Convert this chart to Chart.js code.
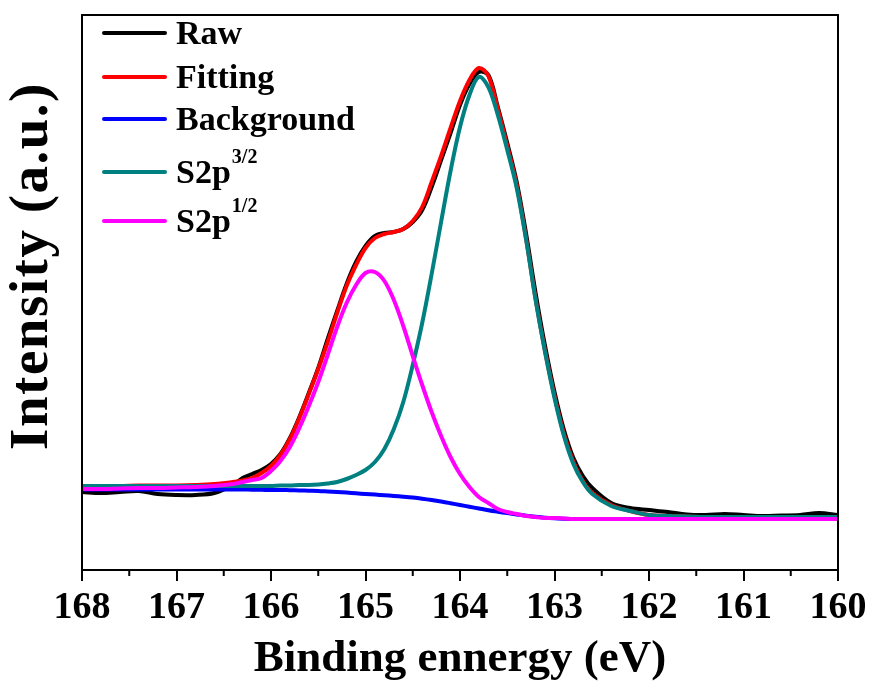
<!DOCTYPE html>
<html><head><meta charset="utf-8">
<script src="https://cdn.jsdelivr.net/npm/chart.js@4.4.1/dist/chart.umd.min.js"></script>
<style>html,body{margin:0;padding:0;background:#fff;}canvas{display:block;}</style>
</head><body>
<canvas id="c" width="872" height="682"></canvas>
<script>
const energy = [168,167.8,167.6,167.4,167.2,167.0,166.8,166.6,166.4,166.3,166.2,166.1,166.0,165.9,165.8,165.7,165.6,165.5,165.4,165.3,165.2,165.1,165.0,164.9,164.8,164.7,164.6,164.5,164.4,164.3,164.2,164.1,164.0,163.9,163.8,163.7,163.6,163.5,163.4,163.3,163.2,163.1,163.0,162.9,162.8,162.7,162.6,162.4,162.2,162.0,161.8,161.6,161.4,161.2,161.0,160.8,160.6,160.4,160.2,160.0];
const raw = [78,77,78,79,76,75,75,77,85,92,96,100,106,116,132,153,177,202,231,259,286,308,324,334,337,338,341,348,360,383,410,437,465,486,498,495,463,427,388,336,277,224,178,140,112,94,82,67,62,60,58,55.5,55,56,55,54,54.5,55,57,55];
const fitting = [84,84,84,84.5,84.5,84.5,85,86,88,89.5,92,97,104,115,131,152,176,201,228,257,284,305,322,332,336,338,341,349,363,388,414,442,469,490,502,494,461,424,385,331,271,219,174,136,108,89,77,65,59,55,54,53.5,53,53,53,53,53,53,53,53];
const background = [80.5,80.5,80.5,80.5,80.5,80.5,80.5,80.5,80.5,80.5,80.3,80.2,80,80,79.8,79.6,79.3,79,78.5,78,77.4,76.7,76,75.4,74.8,74.1,73.3,72.4,71.3,70,68.5,66.8,65,63.2,61.5,59.8,58.3,56.9,55.6,54.3,53.2,52.3,51.7,51.3,51,51,51,51,51,51,51,51,51,51,51,51,51,51,51,51];
const s2p32 = [84,84,84,84,84,84,84,84,84,84,84,84,84,84.5,84.5,85,85,85.5,86.5,88,91,95,100,108,121,141,168,205,247,296,348,399,443,475,493,483,455,420,382,330,270,218,172,134,106,88,76,64,59,55,54,53.5,53,53,53,53,53,53,53,53];
const s2p12 = [81,81,81.5,82,82,82.5,83,84,86,88,90,92,99,109,123,142,164,188,215,243,267,285,297,298,289,270,244,214,185,158,134,113,96,83,73,67,61,58,56,54,53,52,52,51.5,51,51,51,51,51,51,51,51,51,51,51,51,51,51,51,51];
const xTicks = [168,167,166,165,164,163,162,161,160];
const seriesNames = ['Raw','Fitting','Background','S2p','S2p'];
const seriesSup = ['','','','3/2','1/2'];
const seriesColors = ['#000000','#ff0000','#0000ff','#008080','#ff00ff'];
const seriesValues = [raw, fitting, background, s2p32, s2p12];
const drawOrder = [4,3,2,1,0];
const xTitle = 'Binding ennergy (eV)';
const yTitle = 'Intensity (a.u.)';
const FONT = '"Liberation Serif", "Times New Roman", serif';

const datasets = seriesValues.map((vals, k) => ({
  label: seriesNames[k] + seriesSup[k],
  data: energy.map((e, i) => ({x: e, y: vals[i]})),
  borderColor: seriesColors[k],
  backgroundColor: seriesColors[k],
  borderWidth: 4,
  pointRadius: 0,
  fill: false,
  tension: 0.35,
  order: drawOrder[k]
}));

const deco = {
  id: 'deco',
  afterDraw(chart) {
    const {ctx, chartArea: a, scales: {x}} = chart;
    ctx.save();
    ctx.strokeStyle = '#000';
    ctx.lineWidth = 2;
    ctx.strokeRect(a.left, a.top, a.right - a.left, a.bottom - a.top);
    for (let i = 0; i < xTicks.length - 1; i++) {
      const px = x.getPixelForValue((xTicks[i] + xTicks[i + 1]) / 2);
      ctx.beginPath(); ctx.moveTo(px, a.bottom); ctx.lineTo(px, a.bottom + 6); ctx.stroke();
    }
    // legend
    const rows = [33, 77, 119, 172, 221];
    chart.data.datasets.forEach((ds, k) => {
      const y = rows[k];
      ctx.strokeStyle = seriesColors[k];
      ctx.lineWidth = 4; ctx.lineCap = 'round';
      ctx.beginPath(); ctx.moveTo(104, y); ctx.lineTo(165, y); ctx.stroke();
      ctx.fillStyle = '#000';
      ctx.font = 'bold 34px ' + FONT;
      ctx.textAlign = 'left'; ctx.textBaseline = 'alphabetic';
      ctx.fillText(seriesNames[k], 176, y + 11);
      if (seriesSup[k]) {
        const w = ctx.measureText(seriesNames[k]).width;
        ctx.font = 'bold 20px ' + FONT;
        ctx.fillText(seriesSup[k], 176 + w + 1, y - 9);
      }
    });
    // y title
    ctx.translate(33, 266);
    ctx.rotate(-Math.PI / 2);
    ctx.font = 'bold 55px ' + FONT;
    ctx.fillStyle = '#000';
    ctx.textAlign = 'center'; ctx.textBaseline = 'middle';
    if ('letterSpacing' in ctx) ctx.letterSpacing = '1.5px';
    ctx.fillText(yTitle, 0, 0);
    ctx.restore();
  }
};

new Chart(document.getElementById('c'), {
  type: 'line',
  data: { datasets },
  options: {
    responsive: false,
    animation: false,
    events: [],
    layout: { padding: { left: 0, top: 15, right: 34, bottom: 0 } },
    plugins: { legend: { display: false }, tooltip: { enabled: false } },
    scales: {
      x: {
        type: 'linear', min: 160, max: 168, reverse: true, position: 'bottom',
        ticks: { stepSize: 1, autoSkip: false, maxRotation: 0, color: '#000', padding: 4,
                 font: { family: FONT, size: 38, weight: 'bold' } },
        grid: { display: true, drawOnChartArea: false, drawTicks: true, tickLength: 11,
                tickWidth: 2, tickColor: '#000', color: '#000', lineWidth: 2 },
        border: { display: true, color: '#000', width: 2 },
        title: { display: true, text: xTitle, color: '#000',
                 font: { family: FONT, size: 45, weight: 'bold', lineHeight: 1 },
                 padding: { top: 0, bottom: 0 } },
        afterFit(s) { s.height = 112; }
      },
      y: {
        type: 'linear', min: 0, max: 555,
        ticks: { display: false },
        grid: { display: false, drawTicks: false },
        border: { display: false },
        afterFit(s) { s.width = 82; }
      }
    }
  },
  plugins: [deco]
});
</script>
</body></html>
